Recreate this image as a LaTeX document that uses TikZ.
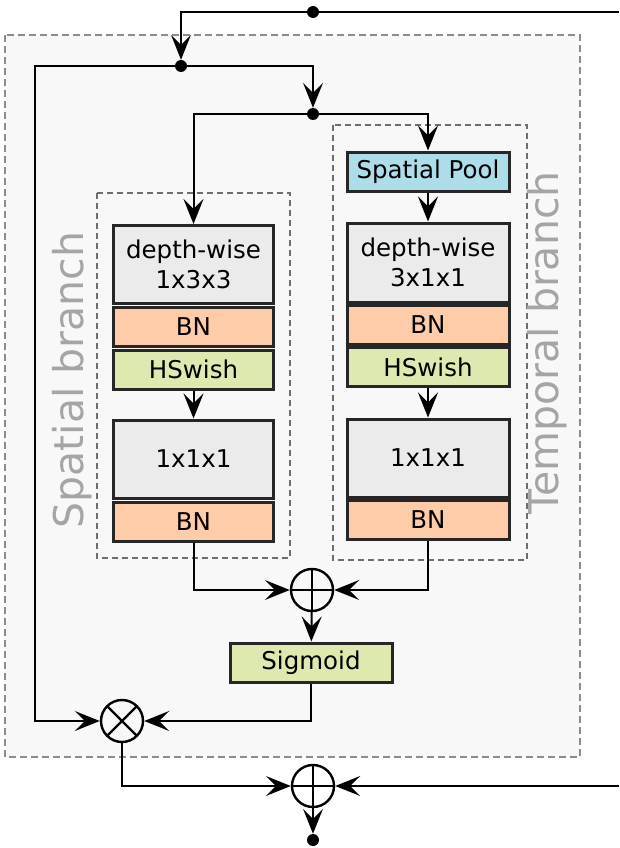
\documentclass[tikz,border=0pt]{standalone}
\usepackage{fontspec}
\setmainfont{DejaVu Sans}
\usetikzlibrary{arrows.meta}
\definecolor{boxgray}{RGB}{235,235,235}
\definecolor{bnfill}{RGB}{255,204,170}
\definecolor{actfill}{RGB}{221,233,175}
\definecolor{poolfill}{RGB}{172,221,232}
\definecolor{outerfill}{RGB}{248,248,248}
\definecolor{labgray}{RGB}{165,165,165}
\definecolor{dashgray}{RGB}{110,110,110}
\begin{document}
\begin{tikzpicture}[x=1pt,y=-1pt,
  blk/.style={draw=black!85, line width=3pt, inner sep=0pt, align=center,
     font=\fontsize{24.5}{30}\selectfont, text=black},
  big/.style={blk, fill=boxgray, minimum height=78},
  bn/.style={blk, fill=bnfill, minimum height=39},
  act/.style={blk, fill=actfill, minimum height=39},
  pool/.style={blk, fill=poolfill, minimum height=39},
  arr/.style={line width=2pt, -{Stealth[length=25pt, width=20pt, inset=10pt]}},
  ln/.style={line width=2pt},
  dot/.style={circle, fill=black, inner sep=0pt, minimum size=12},
  opcirc/.style={circle, draw, line width=2.4pt, minimum size=42, inner sep=0pt},
  oplus/.style={opcirc, path picture={\draw[line width=2.4pt] (path picture bounding box.north) -- (path picture bounding box.south) (path picture bounding box.west) -- (path picture bounding box.east);}},
  otimes/.style={opcirc, path picture={\draw[line width=2.4pt] ([shift={(45:25)}]path picture bounding box.center) -- ([shift={(225:25)}]path picture bounding box.center) ([shift={(135:25)}]path picture bounding box.center) -- ([shift={(315:25)}]path picture bounding box.center);}},
  dbox/.style={draw=dashgray, line width=1.5pt, dash pattern=on 6pt off 4pt},
  branchlab/.style={rotate=90, text=labgray, font=\fontsize{41}{41}\selectfont}
]
\useasboundingbox (0,0) rectangle (619,848);
% outer box
\draw[draw=black!45, fill=outerfill, line width=1.5pt, dash pattern=on 7pt off 4pt] (5,35) rectangle (580,757);
% inner dashed boxes
\draw[dbox] (97,193) rectangle (290,558);
\draw[dbox] (333,125) rectangle (527,560);
% labels
\node[branchlab] (lsp) at (72,380) {Spatial branch};
\node[branchlab] (ltp) at (547,343) {Temporal branch};
% left branch
\node[big, minimum width=160] (dw1) at (193.5,264.5) {depth-wise\\1x3x3};
\node[bn, minimum width=160] (bn1) at (193.5,326.5) {BN};
\node[act, minimum width=160] (hs1) at (193.5,369.5) {HSwish};
\node[big, minimum width=160] (c1) at (193.5,459) {1x1x1};
\node[bn, minimum width=160] (bn1b) at (193.5,521.5) {BN};
% right branch
\node[pool, minimum width=162] (sp) at (428,171.5) {Spatial Pool};
\node[big, minimum width=162, minimum height=79] (dw2) at (428,262.5) {depth-wise\\3x1x1};
\node[bn, minimum width=162] (bn2) at (428,324.5) {BN};
\node[act, minimum width=162] (hs2) at (428,367) {HSwish};
\node[big, minimum width=162] (c2) at (428,458) {1x1x1};
\node[bn, minimum width=162] (bn2b) at (428,520) {BN};
% ops
\node[oplus] (add1) at (312,590) {};
\node[act, minimum width=162] (sig) at (311,662.5) {Sigmoid};
\node[otimes] (mul) at (122,721) {};
\node[oplus] (add2) at (313,786) {};
% dots
\node[dot] (d0) at (313,12) {};
\node[dot] (d1) at (181,66) {};
\node[dot] (d2) at (313,114) {};
\node[dot] (dout) at (313,840) {};
\coordinate (inR) at (619,12);
\coordinate (resR) at (619,786);
\coordinate (cl) at (35,66);
% connectors
\draw[ln] (inR) -- (d0);
\draw[arr] (d0) -| (d1);
\draw[arr] (d1) -| (d2);
\draw[arr] (d1) -- (cl) |- (mul);
\draw[arr] (d2) -| (dw1);
\draw[arr] (d2) -| (sp);
\draw[arr] (sp) -- (dw2);
\draw[arr] (hs1) -- (c1);
\draw[arr] (hs2) -- (c2);
\draw[arr] (bn1b) |- (add1);
\draw[arr] (bn2b.south) |- (add1);
\draw[arr] (add1) -- (sig);
\draw[arr] (sig.south) |- (mul);
\draw[arr] (mul) |- (add2);
\draw[arr] (resR) -- (add2);
\draw[arr] (add2) -- (dout);
\end{tikzpicture}
\end{document}
